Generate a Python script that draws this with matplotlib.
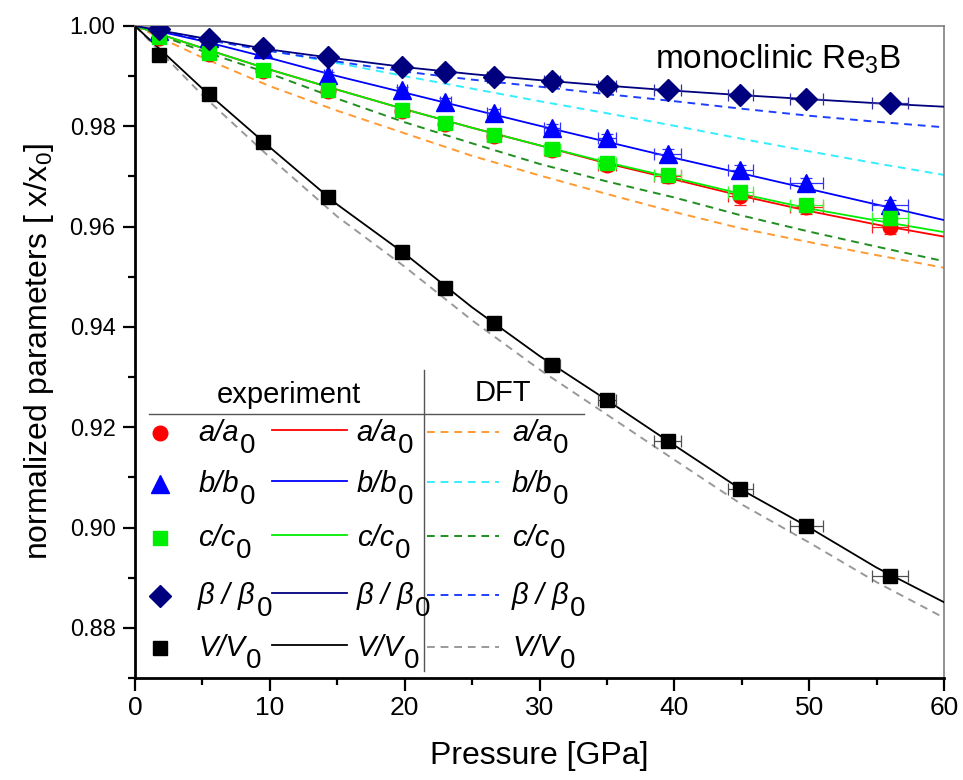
import numpy as np
import matplotlib
matplotlib.use('Agg')
import matplotlib.pyplot as plt
from matplotlib.lines import Line2D

plt.rcParams['font.family'] = ['Liberation Sans', 'DejaVu Sans']
plt.rcParams['mathtext.fontset'] = 'custom'
plt.rcParams['mathtext.rm'] = 'Liberation Sans'
plt.rcParams['mathtext.it'] = 'Liberation Sans:italic'

# experimental points
pressure = [1.8, 5.5, 9.5, 14.3, 19.8, 23.0, 26.6, 30.9, 35.0, 39.5, 44.9, 49.8, 56.0]
p_err = [0.15, 0.2, 0.25, 0.3, 0.35, 0.4, 0.5, 0.6, 0.7, 1.0, 0.95, 1.2, 1.35]
a_exp = [0.9977, 0.9944, 0.9910, 0.9870, 0.9830, 0.9805, 0.9780, 0.9752, 0.9723, 0.9700, 0.9660, 0.9640, 0.9600]
b_exp = [0.9989, 0.9976, 0.9954, 0.9902, 0.9872, 0.9849, 0.9826, 0.9796, 0.9776, 0.9745, 0.9712, 0.9686, 0.9643]
c_exp = [0.9979, 0.9946, 0.9912, 0.9872, 0.9833, 0.9807, 0.9783, 0.9754, 0.9726, 0.9703, 0.9668, 0.9643, 0.9617]
beta_exp = [0.9993, 0.9974, 0.9956, 0.9938, 0.9919, 0.9909, 0.9899, 0.9890, 0.9880, 0.9872, 0.9862, 0.9855, 0.9847]
v_exp = [0.9942, 0.9864, 0.9768, 0.9659, 0.9550, 0.9478, 0.9407, 0.9324, 0.9254, 0.9173, 0.9076, 0.9004, 0.8904]
a_err = [0.0005, 0.0007, 0.0008, 0.0008, 0.0010, 0.0010, 0.0012, 0.0012, 0.0013, 0.0013, 0.0016, 0.0015, 0.0015]
b_err = [0.0004, 0.0005, 0.0006, 0.0006, 0.0007, 0.0007, 0.0008, 0.0008, 0.0009, 0.0009, 0.0010, 0.0010, 0.0010]
c_err = [0.0005, 0.0007, 0.0008, 0.0008, 0.0009, 0.0010, 0.0011, 0.0011, 0.0012, 0.0012, 0.0013, 0.0013, 0.0013]
beta_err = [0.0003, 0.0004, 0.0004, 0.0004, 0.0005, 0.0005, 0.0005, 0.0005, 0.0005, 0.0006, 0.0006, 0.0006, 0.0006]
v_err = [0.0006, 0.0007, 0.0007, 0.0006, 0.0006, 0.0006, 0.0007, 0.0008, 0.0010, 0.0010, 0.0011, 0.0011, 0.0012]

# fitted curves (experiment) and DFT curves, read every 5 GPa
p_line = [0, 5, 10, 15, 20, 25, 30, 35, 40, 45, 50, 55, 60]
a_fit = [1.0, 0.9956, 0.9913, 0.9873, 0.9834, 0.9797, 0.9762, 0.9726, 0.9694, 0.9661, 0.9631, 0.9604, 0.9580]
b_fit = [1.0, 0.9970, 0.9936, 0.9900, 0.9867, 0.9834, 0.9801, 0.9769, 0.9737, 0.9706, 0.9675, 0.9644, 0.9613]
c_fit = [1.0, 0.9956, 0.9913, 0.9873, 0.9834, 0.9797, 0.9762, 0.9728, 0.9697, 0.9665, 0.9636, 0.9612, 0.9589]
beta_fit = [1.0, 0.9976, 0.9953, 0.9935, 0.9918, 0.9904, 0.9892, 0.9881, 0.9871, 0.9862, 0.9854, 0.9846, 0.9839]
v_fit = [1.0, 0.9875, 0.9758, 0.9644, 0.9546, 0.9439, 0.9342, 0.9254, 0.9164, 0.9075, 0.9000, 0.8920, 0.8851]
a_dft = [1.0, 0.9937, 0.9880, 0.9831, 0.9786, 0.9741, 0.9702, 0.9665, 0.9629, 0.9596, 0.9569, 0.9543, 0.9518]
b_dft = [1.0, 0.9975, 0.9951, 0.9926, 0.9900, 0.9875, 0.9850, 0.9826, 0.9801, 0.9775, 0.9750, 0.9726, 0.9703]
c_dft = [1.0, 0.9950, 0.9905, 0.9855, 0.9808, 0.9766, 0.9725, 0.9690, 0.9658, 0.9622, 0.9590, 0.9560, 0.9531]
beta_dft = [1.0, 0.9974, 0.9950, 0.9929, 0.9909, 0.9893, 0.9879, 0.9864, 0.9850, 0.9835, 0.9821, 0.9809, 0.9798]
v_dft = [1.0, 0.9862, 0.9738, 0.9620, 0.9520, 0.9413, 0.9315, 0.9225, 0.9135, 0.9046, 0.8970, 0.8891, 0.8820]

# legend labels: italic part + upright subscript
label_main = ['a/a', 'b/b', 'c/c', 'β / β', 'V/V']
label_sub = '0'
exp_colors = ['#ff0000', '#0000ff', '#00ee00', '#00007f', '#000000']
err_colors = ['#ff2020', '#3030ff', '#30ff30', '#3030a0', '#505050']
dft_colors = ['#ff9a33', '#33eeff', '#1f8f1f', '#1f3fff', '#999999']
markers = ['o', '^', 's', 'D', 's']
msizes = [10.5, 12.5, 10.5, 11, 10.5]

exp_data = [a_exp, b_exp, c_exp, beta_exp, v_exp]
exp_errs = [a_err, b_err, c_err, beta_err, v_err]
fits = [a_fit, b_fit, c_fit, beta_fit, v_fit]
dfts = [a_dft, b_dft, c_dft, beta_dft, v_dft]

fig = plt.figure(figsize=(9.63, 7.8), dpi=100)
ax = fig.add_axes([0.1402, 0.1308, 0.8401, 0.8359])

for i in range(5):
    ax.plot(p_line, dfts[i], color=dft_colors[i], lw=1.4, ls=(0, (4, 3)), zorder=2)
for i in range(5):
    ax.plot(p_line, fits[i], color=exp_colors[i], lw=1.3, zorder=3)
# draw order so that green sits on top of red like the original
for i in [4, 3, 1, 0, 2]:
    ax.errorbar(pressure, exp_data[i], xerr=p_err, yerr=exp_errs[i], fmt=markers[i],
                ms=msizes[i], color=exp_colors[i], ecolor=err_colors[i], elinewidth=0.9,
                capsize=4, capthick=0.9, zorder=4 + i)

ax.set_xlim(0, 60)
ax.set_ylim(0.87, 1.0)
ax.set_xticks(np.arange(0, 61, 10))
ax.set_xticks(np.arange(0, 61, 5), minor=True)
ax.set_yticks(np.arange(0.88, 1.001, 0.02))
ax.set_yticks(np.arange(0.87, 1.001, 0.01), minor=True)
ax.set_yticklabels(['%.2f' % v for v in np.arange(0.88, 1.001, 0.02)])
ax.tick_params(which='major', direction='out', length=9, width=1.6, labelsize=17)
ax.tick_params(which='minor', direction='out', length=5, width=1.6)
ax.tick_params(axis='x', which='major', labelsize=19, pad=4)
ax.tick_params(axis='y', which='major', pad=5)
ax.tick_params(top=False, right=False, which='both')
for s in ['left', 'bottom']:
    ax.spines[s].set_linewidth(2.0)
for s in ['top', 'right']:
    ax.spines[s].set_linewidth(1.2)
    ax.spines[s].set_color('#808080')

ax.set_xlabel('Pressure [GPa]', fontsize=23, labelpad=15)
ax.set_ylabel(r'normalized parameters [ x/x$_\mathrm{0}$]', fontsize=23, labelpad=10)
ax.text(0.643, 0.935, r'monoclinic Re$_\mathrm{3}$B', transform=ax.transAxes,
        fontsize=24, ha='left', va='baseline')

# table-like legend
tr = ax.transAxes
rows = [0.376, 0.298, 0.215, 0.126, 0.046]
ax.text(0.190, 0.434, 'experiment', transform=tr, fontsize=21, ha='center', va='center')
ax.text(0.455, 0.437, 'DFT', transform=tr, fontsize=21, ha='center', va='center')
ax.add_line(Line2D([0.0173, 0.555], [0.405, 0.405], transform=tr, color='#555555', lw=1.0))
ax.add_line(Line2D([0.357, 0.357], [0.011, 0.472], transform=tr, color='#555555', lw=1.0))
for i, y in enumerate(rows):
    ax.add_line(Line2D([0.0309], [y], transform=tr, marker=markers[i], ms=msizes[i],
                       color=exp_colors[i], ls='none'))
    ax.add_line(Line2D([0.169, 0.262], [y + 0.004, y + 0.004], transform=tr,
                       color=exp_colors[i], lw=1.3))
    ax.add_line(Line2D([0.361, 0.450], [y + 0.002, y + 0.002], transform=tr,
                       color=dft_colors[i], lw=1.4, ls=(0, (4, 3))))
    for xt in [0.078, 0.274, 0.466]:
        t = ax.text(xt, y - 0.012, label_main[i], transform=tr, fontsize=21,
                    style='italic', ha='left', va='baseline')
        ax.annotate(label_sub, xy=(1.0, 0.0), xycoords=t, xytext=(0.5, -4.5),
                    textcoords='offset points', fontsize=20, ha='left', va='baseline')

fig.savefig('out.png', dpi=100)
